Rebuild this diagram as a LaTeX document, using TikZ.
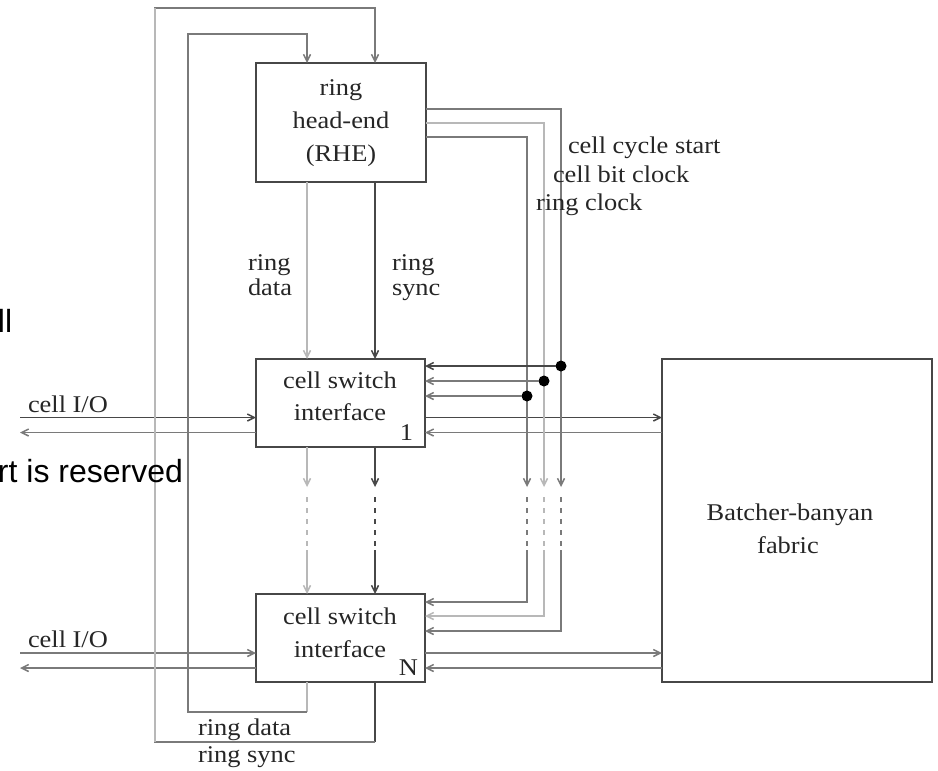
\documentclass[tikz,border=0pt]{standalone}
\usepackage{fontspec}
\setmainfont[FakeStretch=1.1]{Liberation Serif}
\newfontfamily\arialfont{Liberation Sans}
\usetikzlibrary{arrows.meta}
\colorlet{dk}{black!72}
\colorlet{md}{black!52}
\colorlet{lt}{black!28}
\begin{document}
\begin{tikzpicture}[x=1pt,y=-1pt,
  every node/.style={inner sep=0pt, outer sep=0pt},
  lbl/.style={font=\fontsize{24}{33}\selectfont, text=black!85, anchor=base west},
  lblc/.style={font=\fontsize{24}{33}\selectfont, text=black!85, anchor=base},
  sanslbl/.style={font=\arialfont\fontsize{32}{38}\selectfont, text=black, anchor=base west},
  boxn/.style={draw=dk, line width=1.5pt, rectangle, fill=white},
  wire/.style={line width=1.5pt},
  tip/.style={-{Straight Barb[length=7pt,width=7pt]}},
  brk/.style={dash pattern=on 5pt off 6pt},
  dotn/.style={circle, fill=black, minimum size=11pt}
]
\useasboundingbox (0,0) rectangle (938,771);
\fill[white] (0,0) rectangle (938,771);

% columns and rows
\coordinate (xl) at (20,0);
\coordinate (xo) at (155,0);
\coordinate (xi) at (188,0);
\coordinate (xd) at (307,0);
\coordinate (xs) at (375,0);
\coordinate (xa) at (527,0);
\coordinate (xb) at (544,0);
\coordinate (xc) at (561,0);
\coordinate (yot) at (0,8);
\coordinate (yit) at (0,34);
\coordinate (yc) at (0,109);
\coordinate (yb) at (0,123);
\coordinate (ya) at (0,137);
\coordinate (y1c) at (0,366);
\coordinate (y1b) at (0,381);
\coordinate (y1a) at (0,396);
\coordinate (y1o) at (0,417.5);
\coordinate (y1i) at (0,432.5);
\coordinate (ytip) at (0,487);
\coordinate (yd1) at (0,497);
\coordinate (yd2) at (0,550);
\coordinate (yNa) at (0,602);
\coordinate (yNb) at (0,616);
\coordinate (yNc) at (0,631);
\coordinate (yNo) at (0,653);
\coordinate (yNi) at (0,668);
\coordinate (yib) at (0,712);
\coordinate (yob) at (0,742);

% boxes
\node[boxn, minimum width=170pt, minimum height=119pt] (rhe) at (341,122.5) {};
\node[boxn, minimum width=169pt, minimum height=88pt] (csi1) at (340.5,403) {};
\node[boxn, minimum width=169pt, minimum height=88pt] (csin) at (340.5,638) {};
\node[boxn, minimum width=270pt, minimum height=323pt] (bb) at (797,520.5) {};

% box texts
\node[lblc] (rhet1) at (341,95) {ring};
\node[lblc] (rhet2) at (341,128) {head-end};
\node[lblc] (rhet3) at (341,161) {(RHE)};
\node[lblc] (c1t1) at (340,388) {cell switch};
\node[lblc] (c1t2) at (340,420) {interface};
\node[lblc, anchor=base east] (c1num) at (413,440) {1};
\node[lblc] (cnt1) at (340,624) {cell switch};
\node[lblc] (cnt2) at (340,657) {interface};
\node[lblc, anchor=base east] (cnnum) at (418,675) {N};
\node[lblc] (bbt1) at (790,520) {Batcher-banyan};
\node[lblc] (bbt2) at (788,553) {fabric};

% cell I/O lines
\draw[wire, dk, tip] (xl |- y1o) -- (csi1.west |- y1o);
\draw[wire, md, tip] (csi1.west |- y1i) -- (xl |- y1i);
\draw[wire, md, tip] (xl |- yNo) -- (csin.west |- yNo);
\draw[wire, md, tip] (csin.west |- yNi) -- (xl |- yNi);
% fabric lines
\draw[wire, dk, tip] (csi1.east |- y1o) -- (bb.west |- y1o);
\draw[wire, md, tip] (bb.west |- y1i) -- (csi1.east |- y1i);
\draw[wire, md, tip] (csin.east |- yNo) -- (bb.west |- yNo);
\draw[wire, md, tip] (bb.west |- yNi) -- (csin.east |- yNi);

% ring data (inner loop)
\draw[wire, lt, tip] (rhe.south -| xd) -- (csi1.north -| xd);
\draw[wire, lt, tip] (csi1.south -| xd) -- (xd |- ytip);
\draw[wire, lt, brk] (xd |- yd1) -- (xd |- yd2);
\draw[wire, lt, tip] (xd |- yd2) -- (csin.north -| xd);
\draw[wire, lt] (csin.south -| xd) -- (xd |- yib);
\draw[wire, md, tip] (xd |- yib) -- (xi |- yib) -- (xi |- yit) -- (xd |- yit) -- (rhe.north -| xd);

% ring sync (outer loop)
\draw[wire, dk, tip] (rhe.south -| xs) -- (csi1.north -| xs);
\draw[wire, dk, tip] (csi1.south -| xs) -- (xs |- ytip);
\draw[wire, dk, brk] (xs |- yd1) -- (xs |- yd2);
\draw[wire, dk, tip] (xs |- yd2) -- (csin.north -| xs);
\draw[wire, dk] (csin.south -| xs) -- (xs |- yob);
\draw[wire, md, tip] (xs |- yob) -- (xo |- yob) -- (xo |- yot) -- (xs |- yot) -- (rhe.north -| xs);
\draw[wire, lt] (xo |- yob) -- (xo |- yot);

% clock buses
\draw[wire, md, tip] (rhe.east |- yc) -- (xc |- yc) -- (xc |- ytip);
\draw[wire, md, brk] (xc |- yd1) -- (xc |- yd2);
\draw[wire, md, tip] (xc |- yd2) -- (xc |- yNc) -- (csin.east |- yNc);
\draw[wire, lt, tip] (rhe.east |- yb) -- (xb |- yb) -- (xb |- ytip);
\draw[wire, lt, brk] (xb |- yd1) -- (xb |- yd2);
\draw[wire, lt, tip] (xb |- yd2) -- (xb |- yNb) -- (csin.east |- yNb);
\draw[wire, md, tip] (rhe.east |- ya) -- (xa |- ya) -- (xa |- ytip);
\draw[wire, md, brk] (xa |- yd1) -- (xa |- yd2);
\draw[wire, md, tip] (xa |- yd2) -- (xa |- yNa) -- (csin.east |- yNa);

% taps to interface 1
\node[dotn] (dc) at (xc |- y1c) {};
\node[dotn] (db) at (xb |- y1b) {};
\node[dotn] (da) at (xa |- y1a) {};
\draw[wire, dk, tip] (dc) -- (csi1.east |- y1c);
\draw[wire, md, tip] (db) -- (csi1.east |- y1b);
\draw[wire, md, tip] (da) -- (csi1.east |- y1a);

% labels
\node[lbl] (lcs) at (568,153) {cell cycle start};
\node[lbl] (lcb) at (553,182) {cell bit clock};
\node[lbl] (lrc) at (536,210) {ring clock};
\node[lbl] (lrd1) at (248,270) {ring};
\node[lbl] (lrd2) at (248,295) {data};
\node[lbl] (lrs1) at (392,270) {ring};
\node[lbl] (lrs2) at (392,295) {sync};
\node[lbl] (lio1) at (28,412) {cell I/O};
\node[lbl] (lion) at (28,647) {cell I/O};
\node[lbl] (lrdb) at (198,735) {ring data};
\node[lbl] (lrsb) at (198,762) {ring sync};

% fragments of overlapping text, cut at the left edge as in the reference
\node[sanslbl] (frag1) at (-2,332) {ll};
\node[sanslbl] (frag2) at (-2,482) {rt is reserved};
\end{tikzpicture}
\end{document}
